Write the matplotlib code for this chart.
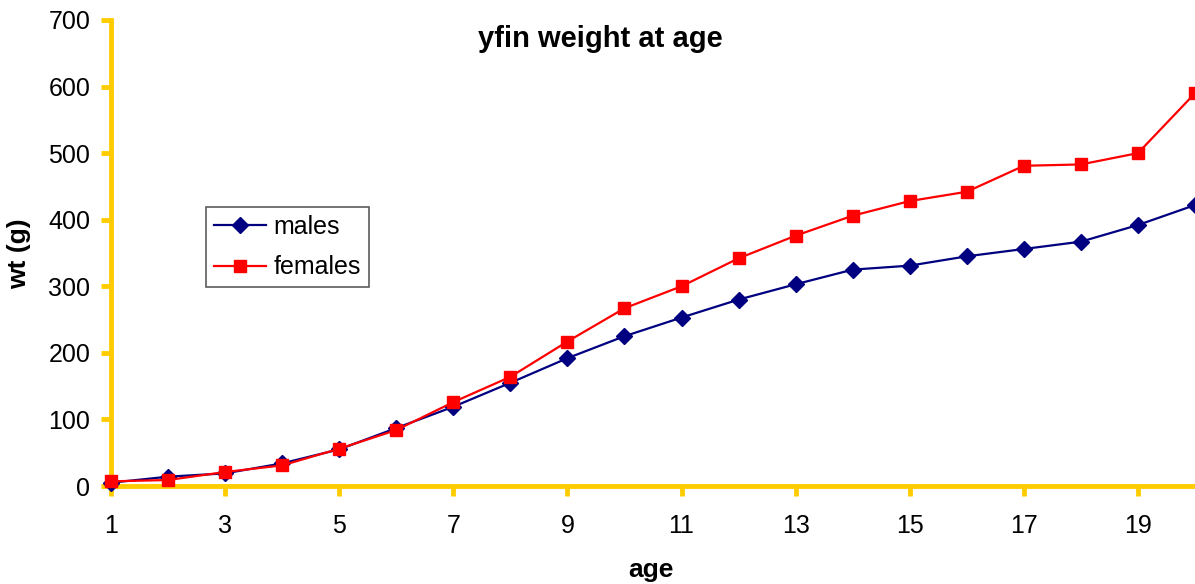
import matplotlib.pyplot as plt

plt.rcParams["font.family"] = ["Liberation Sans", "DejaVu Sans"]

ages = list(range(1, 21))
males = [5, 14, 19, 34, 55, 87, 119, 155, 192, 225, 253, 280, 303, 325, 331, 345, 356, 367, 392, 422]
females = [7, 9, 21, 31, 56, 84, 126, 164, 217, 267, 300, 342, 376, 406, 428, 442, 481, 483, 500, 590]
x_ticks = list(range(1, 20, 2))
y_ticks = list(range(0, 701, 100))

gold = "#FFCC00"

fig = plt.figure(figsize=(11.95, 5.84), dpi=100)
ax = fig.add_axes([0.0929, 0.1678, 0.9071, 0.798])

ax.plot(ages, males, color="#000080", marker="D", markersize=8, lw=1.6,
        label="males", clip_on=False, zorder=3)
ax.plot(ages, females, color="#FF0000", marker="s", markersize=8.5, lw=1.6,
        label="females", clip_on=False, zorder=4)

ax.set_xlim(1, 20)
ax.set_ylim(0, 700)
ax.set_xticks(x_ticks)
ax.set_yticks(y_ticks)

for side in ["top", "right"]:
    ax.spines[side].set_visible(False)
for side in ["left", "bottom"]:
    ax.spines[side].set_color(gold)
    ax.spines[side].set_linewidth(3.5)
    ax.spines[side].set_zorder(2)
ax.tick_params(axis="both", colors=gold, width=3.5, length=7,
               labelcolor="black", labelsize=18)
ax.tick_params(axis="x", pad=13)
ax.tick_params(axis="y", pad=8)

# axis labels and title placed in figure pixels to match the reference
fig.text(651 / 1195, 1 - 577 / 584, "age", ha="center", va="baseline",
         fontsize=19, fontweight="bold")
fig.text(19 / 1195, 1 - 254 / 584, "wt (g)", ha="center", va="center",
         rotation=90, fontsize=19, fontweight="bold")
fig.text(600 / 1195, 1 - 47 / 584, "yfin weight at age", ha="center",
         va="baseline", fontsize=21, fontweight="bold")

leg = ax.legend(loc="upper left", bbox_to_anchor=(0.0876, 0.599), fontsize=18,
                frameon=True, fancybox=False, edgecolor="#333333",
                handlelength=2.08, handletextpad=0.3, borderpad=0.32,
                labelspacing=0.66, borderaxespad=0)
leg.get_frame().set_linewidth(1.2)

fig.savefig("out.png", dpi=100)
